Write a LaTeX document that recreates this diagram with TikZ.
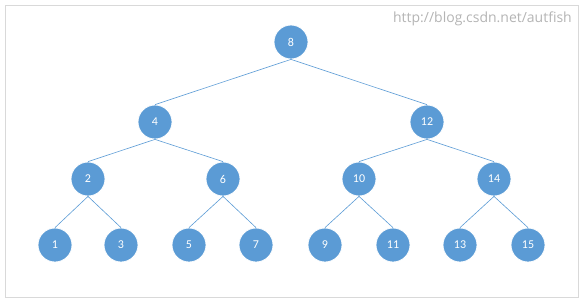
\documentclass[tikz,border=0pt]{standalone}
\usepackage{fontspec}
\setmainfont{Carlito}
\newfontfamily\wmfont{Open Sans}
\definecolor{nodeblue}{HTML}{5B9BD5}
\definecolor{framegray}{HTML}{D9D9D9}
\definecolor{wmgray}{HTML}{B4B4B4}
\begin{document}
\begin{tikzpicture}[x=1pt,y=-1pt,
  treenode/.style={circle,fill=nodeblue,draw=white,line width=0.8pt,minimum size=34pt,inner sep=0pt,text=white,font=\fontsize{12}{13}\selectfont},
  edge/.style={draw=nodeblue,line width=0.6pt}]
\useasboundingbox (0,0) rectangle (585,306);
\draw[framegray,line width=1pt] (5.5,5.5) rectangle (578,297.5);
\node[font=\wmfont\fontsize{14}{15}\selectfont,text=wmgray,anchor=base east,inner sep=0pt] (wm) at (572,22) {http://blog.csdn.net/autfish};
\node[treenode] (n8) at (291,42) {8};
\node[treenode] (n4) at (155,122) {4};
\node[treenode] (n12) at (427,122) {12};
\node[treenode] (n2) at (88,179) {2};
\node[treenode] (n6) at (223,179) {6};
\node[treenode] (n10) at (359,179) {10};
\node[treenode] (n14) at (494,179) {14};
\node[treenode] (n1) at (55,245) {1};
\node[treenode] (n3) at (121,245) {3};
\node[treenode] (n5) at (189,245) {5};
\node[treenode] (n7) at (256,245) {7};
\node[treenode] (n9) at (325,245) {9};
\node[treenode] (n11) at (393,245) {11};
\node[treenode] (n13) at (460,245) {13};
\node[treenode] (n15) at (528,245) {15};
\foreach \p/\c in {n8/n4,n8/n12,n4/n2,n4/n6,n12/n10,n12/n14,n2/n1,n2/n3,n6/n5,n6/n7,n10/n9,n10/n11,n14/n13,n14/n15}
  \draw[edge] (\p.south) -- (\c.north);
\end{tikzpicture}
\end{document}
